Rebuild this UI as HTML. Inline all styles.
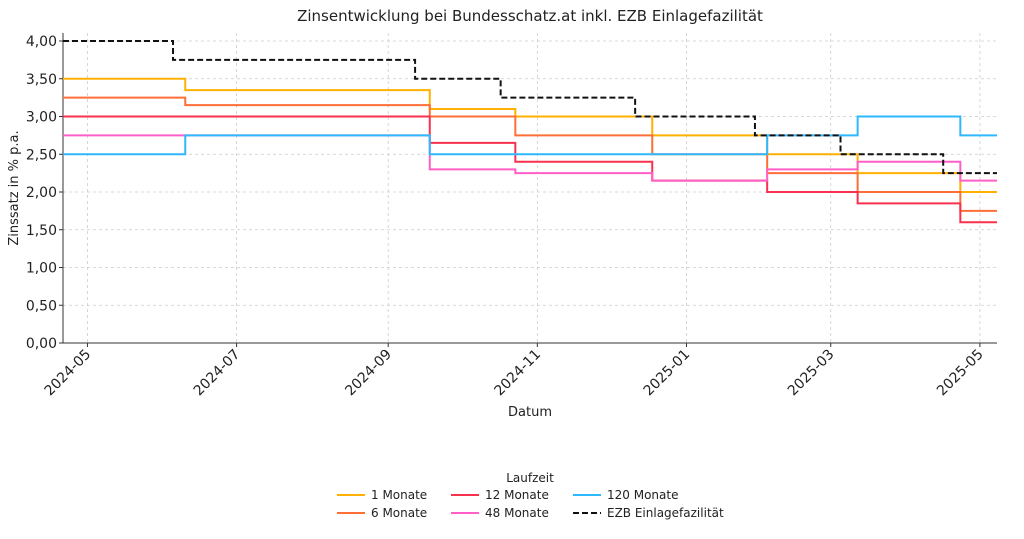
<!DOCTYPE html>
<html><head><meta charset="utf-8"><style>
body{margin:0;background:#fff;font-family:"Liberation Sans","DejaVu Sans",sans-serif}
svg text{font-family:"DejaVu Sans","Liberation Sans",sans-serif}
</style></head><body>
<svg id="chart" width="1024" height="534" xmlns="http://www.w3.org/2000/svg"></svg>
<script>
const seriesNames=["1 Monate","6 Monate","12 Monate","48 Monate","120 Monate"];
const seriesColors=["#FFB000","#FE6F38","#F8324E","#FF5FC6","#2EB9FF"];
const bankDates=["2024-04-21","2024-06-10","2024-09-18","2024-10-23","2024-12-18","2025-02-03","2025-03-12","2025-04-23","2025-05-08"];
const m1=[3.5,3.35,3.1,3.0,2.75,2.5,2.25,2.0,2.0];
const m6=[3.25,3.15,3.0,2.75,2.5,2.25,2.0,1.75,1.75];
const m12=[3.0,3.0,2.65,2.4,2.15,2.0,1.85,1.6,1.6];
const m48=[2.75,2.75,2.3,2.25,2.15,2.3,2.4,2.15,2.15];
const m120=[2.5,2.75,2.5,2.5,2.5,2.75,3.0,2.75,2.75];
const ezbDates=["2024-04-21","2024-06-05","2024-09-12","2024-10-17","2024-12-11","2025-01-29","2025-03-05","2025-04-16","2025-05-08"];
const ezb=[4.0,3.75,3.5,3.25,3.0,2.75,2.5,2.25,2.25];
const yTicks=[0,0.5,1,1.5,2,2.5,3,3.5,4];
const xTicks=["2024-05","2024-07","2024-09","2024-11","2025-01","2025-03","2025-05"];

const L=63,R=997,T=33,B=343;
const d0=Date.UTC(2024,3,21),d1=Date.UTC(2025,4,8);
const toT=s=>{const p=s.split("-").map(Number);return Date.UTC(p[0],p[1]-1,p[2]||1);};
const xS=s=>L+(toT(s)-d0)/(d1-d0)*(R-L);
const yS=v=>343-v*(302/4);
const svg=document.getElementById("chart");
const NS="http://www.w3.org/2000/svg";
function mk(tag,attrs,parent){const e=document.createElementNS(NS,tag);for(const k in attrs)e.setAttribute(k,attrs[k]);(parent||svg).appendChild(e);return e;}

let t=mk("text",{x:530,y:21,"text-anchor":"middle","font-size":15,fill:"#222"});


t.textContent="Zinsentwicklung bei Bundesschatz.at inkl. EZB Einlagefazilität";

yTicks.forEach(v=>{
 const g=mk("line",{x1:L,x2:R,y1:yS(v),y2:yS(v),stroke:"#ccc","stroke-dasharray":"3,3","stroke-width":0.8});
 
 
 mk("line",{x1:L-4,x2:L,y1:yS(v),y2:yS(v),stroke:"#333"});
 const l=mk("text",{x:L-6,y:yS(v)+5,"text-anchor":"end","font-size":14,fill:"#222"});
 
 
 l.textContent=v.toFixed(2).replace(".",",");
});
xTicks.forEach(s=>{
 const x=xS(s);
 const g=mk("line",{x1:x,x2:x,y1:T,y2:B,stroke:"#ccc","stroke-dasharray":"3,3","stroke-width":0.8});
 
 
 mk("line",{x1:x,x2:x,y1:B,y2:B+4,stroke:"#333"});
 const l=mk("text",{x:x+4,y:B+12,"text-anchor":"end","font-size":14,fill:"#222",transform:`rotate(-45 ${x+4} ${B+12})`});
 
 
 l.textContent=s;
});
const ax=mk("path",{d:`M${L},${T}V${B}H${R}`,fill:"none",stroke:"#333","stroke-width":1});


let yl=mk("text",{x:18,y:188,"text-anchor":"middle","font-size":13,fill:"#222",transform:"rotate(-90 18 188)"});


yl.textContent="Zinssatz in % p.a.";
let xl=mk("text",{x:530,y:416,"text-anchor":"middle","font-size":13,fill:"#222"});


xl.textContent="Datum";

function stepPath(dates,vals){let d=`M${xS(dates[0])},${yS(vals[0])}`;for(let i=1;i<dates.length;i++){d+=`H${xS(dates[i])}V${yS(vals[i])}`;}return d;}
const all=[m1,m6,m12,m48,m120];
all.forEach((vals,i)=>{
 const p=mk("path",{d:stepPath(bankDates,vals),fill:"none",stroke:seriesColors[i],"stroke-width":2});
 
 
});
const ep=mk("path",{d:stepPath(ezbDates,ezb),fill:"none",stroke:"#111","stroke-width":2,"stroke-dasharray":"6,3"});



let lt=mk("text",{x:530,y:482,"text-anchor":"middle","font-size":12,fill:"#222"});


lt.textContent="Laufzeit";
const leg=[[0,337,495],[1,337,513],[2,451,495],[3,451,513],[4,573,495],[5,573,513]];
leg.forEach(([i,x,y])=>{
 const g=mk("g",{});
 
 
 const isE=i===5;
 mk("line",{x1:x,x2:x+28,y1:y,y2:y,stroke:isE?"#111":seriesColors[i],"stroke-width":2,"stroke-dasharray":isE?"6,3":"none"},g);
 const tx=mk("text",{x:x+34,y:y+4,"font-size":12,fill:"#222"},g);
 tx.textContent=isE?"EZB Einlagefazilität":seriesNames[i];
});
</script>
</body></html>
